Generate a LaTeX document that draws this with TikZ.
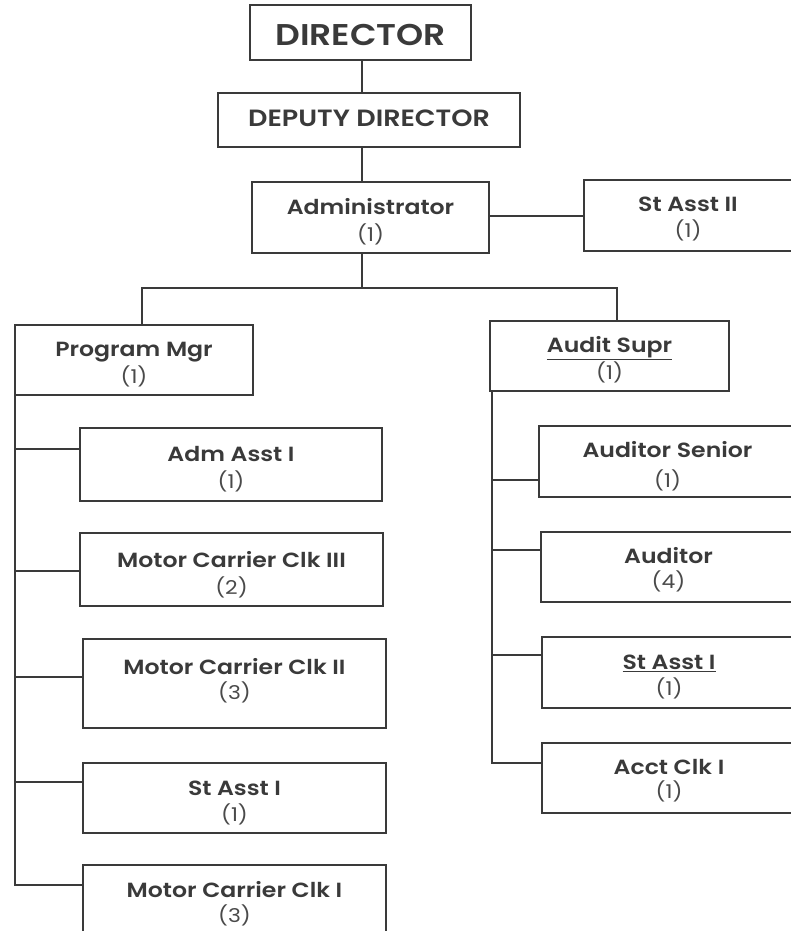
\documentclass[tikz,border=0pt]{standalone}
\usepackage{fontspec}
\setmainfont{Poppins}[BoldFont={Poppins SemiBold}, FakeStretch=1.15]
\usetikzlibrary{calc}
\definecolor{ink}{HTML}{3A3A3A}
\definecolor{inksoft}{HTML}{4A4A4A}
% box given by its top-left and bottom-right corners
\newcommand\orgbox[5]{%
  \node[orgbox, anchor=north west,
        minimum width={(#4-#2)*1pt}, minimum height={(#5-#3)*1pt}] (#1) at (#2,#3) {};}
\begin{document}
\begin{tikzpicture}[x=1pt,y=-1pt,
  orgbox/.style={draw=ink, line width=1.7pt, inner sep=0pt, outer sep=0pt, fill=white},
  ttl/.style={text=ink, font=\bfseries\fontsize{20.5}{22}\selectfont, inner sep=0pt,
              text height=14.3pt, text depth=0pt, anchor=center},
  cnt/.style={text=inksoft, font=\fontsize{19}{21}\selectfont, inner sep=0pt,
              text height=13.3pt, text depth=0pt, anchor=center},
  link/.style={draw=ink, line width=1.6pt}]
\useasboundingbox (0,0) rectangle (791,931);
\clip (0,0) rectangle (791,931);

% ---- upper chain ----
\orgbox{dir}{250}{5}{471}{60}
\orgbox{dep}{218}{93}{520}{147}
\orgbox{adm}{252}{182}{489}{253}
\orgbox{sa2}{584}{180}{792}{251}

% ---- left group ----
\orgbox{pm}{15}{325}{253}{395}
\orgbox{aa1}{80}{428}{382}{501}
\orgbox{mc3}{80}{533}{383}{606}
\orgbox{mc2}{83}{639}{386}{728}
\orgbox{sal}{83}{763}{386}{833}
\orgbox{mc1}{83}{865}{386}{960}

% ---- right group ----
\orgbox{as}{490}{321}{729}{391}
\orgbox{aus}{539}{426}{792}{497}
\orgbox{aud}{541}{532}{792}{602}
\orgbox{sar}{542}{637}{792}{708}
\orgbox{acc}{542}{743}{792}{813}

% ---- connectors ----
\coordinate (trunk) at (362,0);
\coordinate (busl) at (142,288);
\coordinate (busr) at (617,288);
\draw[link] (trunk |- dir.south) -- (trunk |- dep.north);
\draw[link] (trunk |- dep.south) -- (trunk |- adm.north);
\draw[link] (adm.east |- 0,216) -- (sa2.west |- 0,216);
\draw[link] (trunk |- adm.south) -- (trunk |- busl);
\draw[link] (busl |- pm.north) -- (busl) -- (busr) -- (busr |- as.north);

% left spine
\draw[link] (pm.south west) |- ([yshift=-21pt]aa1.north west);
\draw[link] (pm.south west) |- ([yshift=-38pt]mc3.north west);
\draw[link] (pm.south west) |- ([yshift=-38pt]mc2.north west);
\draw[link] (pm.south west) |- ([yshift=-19pt]sal.north west);
\draw[link] (pm.south west) |- ([yshift=-20pt]mc1.north west);

% right spine
\draw[link] ([xshift=2pt]as.south west) |- ([yshift=-54pt]aus.north west);
\draw[link] ([xshift=2pt]as.south west) |- ([yshift=-18pt]aud.north west);
\draw[link] ([xshift=2pt]as.south west) |- ([yshift=-18pt]sar.north west);
\draw[link] ([xshift=2pt]as.south west) |- ([yshift=-20pt]acc.north west);

% ---- labels ----
\node[ttl, font=\bfseries\fontsize{30}{32}\selectfont, text height=21pt] (dir-t) at ($(dir.north)+(0,30)$) {DIRECTOR};
\node[ttl, font=\bfseries\fontsize{23.5}{25}\selectfont, text height=16.4pt] (dep-t) at ($(dep.north)+(0,25)$) {DEPUTY DIRECTOR};

\node[ttl] (adm-t) at ($(adm.north)+(0,25)$) {Administrator};
\node[cnt] (adm-c) at ($(adm.north)+(0,53)$) {(1)};
\node[ttl] (sa2-t) at ($(sa2.north)+(0,24)$) {St Asst II};
\node[cnt] (sa2-c) at ($(sa2.north)+(0,51)$) {(1)};

\node[ttl] (pm-t) at ($(pm.north)+(0,24)$) {Program Mgr};
\node[cnt] (pm-c) at ($(pm.north)+(0,52)$) {(1)};
\node[ttl] (aa1-t) at ($(aa1.north)+(0,26)$) {Adm Asst I};
\node[cnt] (aa1-c) at ($(aa1.north)+(0,54)$) {(1)};
\node[ttl] (mc3-t) at ($(mc3.north)+(0,27)$) {Motor Carrier Clk III};
\node[cnt] (mc3-c) at ($(mc3.north)+(0,55)$) {(2)};
\node[ttl] (mc2-t) at ($(mc2.north)+(0,28)$) {Motor Carrier Clk II};
\node[cnt] (mc2-c) at ($(mc2.north)+(0,54)$) {(3)};
\node[ttl] (sal-t) at ($(sal.north)+(0,25)$) {St Asst I};
\node[cnt] (sal-c) at ($(sal.north)+(0,52)$) {(1)};
\node[ttl] (mc1-t) at ($(mc1.north)+(0,25)$) {Motor Carrier Clk I};
\node[cnt] (mc1-c) at ($(mc1.north)+(0,51)$) {(3)};

\node[ttl] (as-t) at ($(as.north)+(0,24)$) {\underline{Audit Supr}};
\node[cnt] (as-c) at ($(as.north)+(0,52)$) {(1)};
\node[ttl] (aus-t) at ($(aus.north)+(2,24)$) {Auditor Senior};
\node[cnt] (aus-c) at ($(aus.north)+(2,55)$) {(1)};
\node[ttl] (aud-t) at ($(aud.north)+(2,24)$) {Auditor};
\node[cnt] (aud-c) at ($(aud.north)+(2,50)$) {(4)};
\node[ttl] (sar-t) at ($(sar.north)+(2,25)$) {\underline{St Asst I}};
\node[cnt] (sar-c) at ($(sar.north)+(2,52)$) {(1)};
\node[ttl] (acc-t) at ($(acc.north)+(2,24)$) {Acct Clk I};
\node[cnt] (acc-c) at ($(acc.north)+(2,49)$) {(1)};
\end{tikzpicture}
\end{document}
